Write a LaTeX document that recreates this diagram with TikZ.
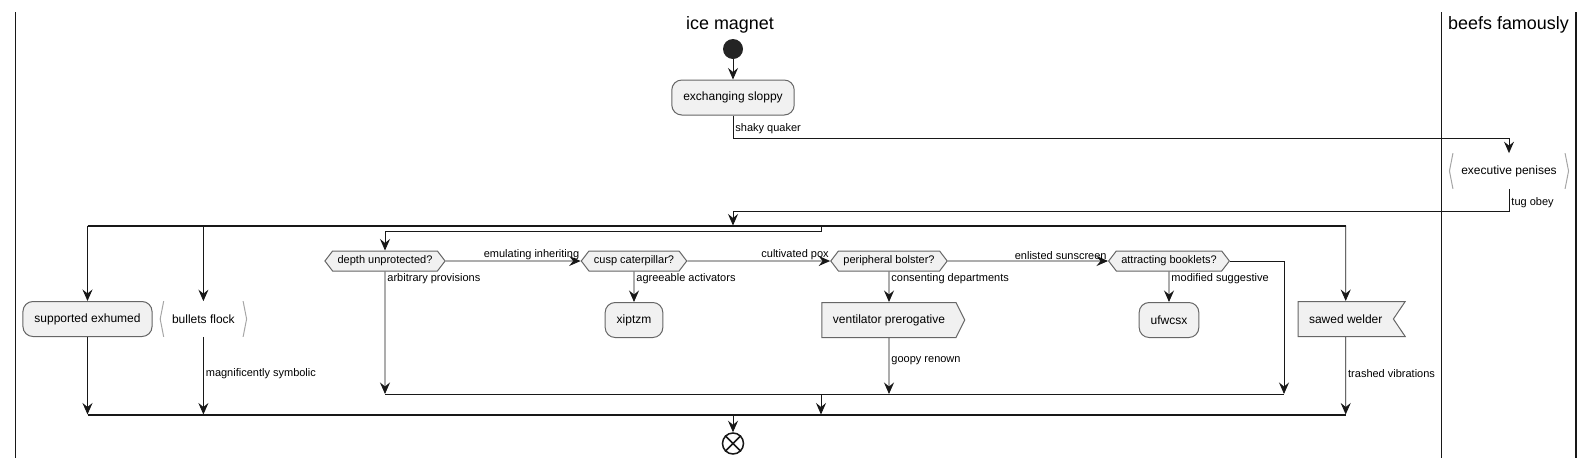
\documentclass[tikz,border=0pt]{standalone}
\usepackage{fontspec}
\setmainfont{Liberation Sans}
\usetikzlibrary{arrows.meta,shapes.symbols}
\definecolor{actfill}{HTML}{F1F1F1}
\definecolor{edgecol}{HTML}{181818}
\newcommand\actfont{\fontsize{6.83}{8}\selectfont}
\newcommand\lblfont{\fontsize{6.26}{7.5}\selectfont}
\newcommand\lanefont{\fontsize{10.2}{12}\selectfont}
\begin{document}
\begin{tikzpicture}[x=0.2mm,y=-0.2mm]
            \tikzset{
                act/.style={draw=black!60, line width=0.2mm, fill=actfill, rounded corners=2mm, minimum height=7mm, inner xsep=2.3mm, inner ysep=0pt, font=\actfont},
                inbox/.style={minimum height=7mm, inner xsep=2.3mm, inner ysep=0pt, font=\actfont},
                hexd/.style={signal, signal to=east and west, signal pointer angle=105, draw=black!60, line width=0.2mm, fill=actfill, minimum height=4mm, inner xsep=1mm, inner ysep=0pt, font=\lblfont},
                sendbox/.style={signal, signal to=east, signal pointer angle=127, draw=black!60, line width=0.2mm, fill=actfill, minimum height=7mm, inner xsep=2.2mm, inner ysep=0pt, font=\actfont},
                recvbox/.style={signal, signal to=nowhere, signal from=east, signal pointer angle=112, draw=black!60, line width=0.2mm, fill=actfill, minimum height=7mm, inner xsep=2.2mm, inner ysep=0pt, font=\actfont},
                brk/.style={draw=black!35, line width=0.2mm},
                arr/.style={draw=edgecol, line width=0.18mm, -{Stealth[length=2.3mm, width=2mm, inset=0.8mm]}},
                bar/.style={draw=edgecol, line width=0.4mm},
                lane/.style={draw=edgecol, line width=0.3mm},
                lbl/.style={font=\lblfont, anchor=north west, inner sep=0.4mm},
                lbltop/.style={font=\lblfont, anchor=south east, inner sep=0.2mm},
                lblside/.style={font=\lblfont, anchor=west, inner sep=0.4mm},
            }
            \useasboundingbox (0,0) rectangle (1595,465);
            \foreach \x in {15.3,1441.5,1576} {\draw[lane] (\x,12) -- (\x,458);}
            \node[font=\lanefont] (icelane) at (730,25) {ice magnet};
            \node[font=\lanefont] (beeflane) at (1508.5,25) {beefs famously};

            \node[circle, fill=edgecol!95, minimum size=4mm, inner sep=0pt] (st) at (733,49) {};
            \node[act] (exch) at (733,97.5) {exchanging sloppy};
            \node[inbox] (pen) at (1509,171) {executive penises};
            \coordinate (sq) at (733,138);
            \coordinate (tb) at (733,211);
            \coordinate (forkL) at (87.5,225.5);
            \coordinate (forkR) at (1345.7,225.5);
            \coordinate (br) at (821,231);

            \node[act] (sup) at (87.5,319) {supported exhumed};
            \node[inbox] (bul) at (203.4,319) {bullets flock};
            \node[hexd] (depth) at (385,261) {depth unprotected?};
            \node[hexd] (cusp) at (634,261) {cusp caterpillar?};
            \node[hexd] (peri) at (889,261) {peripheral bolster?};
            \node[hexd] (attr) at (1169,261) {attracting booklets?};
            \node[act] (xip) at (634,320) {xiptzm};
            \node[sendbox] (vent) at (889,320) {ventilator prerogative};
            \node[act] (ufw) at (1169,320) {ufwcsx};
            \node[recvbox] (saw) at (1345.7,319) {sawed welder};
            \coordinate (ijL) at (385,394);
            \coordinate (ijR) at (1284,394);
            \coordinate (joinL) at (87.5,414.5);
            \coordinate (joinR) at (1345.7,414.5);
            \node[circle, draw=edgecol, line width=0.3mm, fill=white, minimum size=4.2mm, inner sep=0pt] (end) at (733,443.5) {};
            \draw[edgecol, line width=0.3mm] (end.45) -- (end.225) (end.135) -- (end.315);

            \foreach \n in {pen,bul} {
                \draw[brk] ([xshift=0.7mm]\n.north west) -- (\n.west) -- ([xshift=0.7mm]\n.south west);
                \draw[brk] ([xshift=-0.7mm]\n.north east) -- (\n.east) -- ([xshift=-0.7mm]\n.south east);
            }

            \draw[arr] (st) -- (exch);
            \draw[arr] (exch) -- node[pos=0, lbl, yshift=-1.2mm] {shaky quaker} (sq) -| (pen);
            \draw[arr] (pen.south) |- node[pos=0, lbl, yshift=-1.2mm] {tug obey} (tb) -- (tb |- forkL);
            \draw[bar] (forkL) -- (forkR);
            \draw[arr] (forkL) -- (sup);
            \draw[arr] (bul |- forkL) -- (bul);
            \draw[arr] (br |- forkL) -- (br) -| (depth);
            \draw[arr] (forkR) -- (saw);

            \draw[arr] (depth) -- (cusp) node[pos=1, lbltop] {emulating inheriting};
            \draw[arr] (cusp) -- (peri) node[pos=1, lbltop] {cultivated pox};
            \draw[arr] (peri) -- (attr) node[pos=1, lbltop] {enlisted sunscreen};
            \draw[arr] (depth) -- node[pos=0, lbl] {arbitrary provisions} (ijL);
            \draw[arr] (cusp) -- node[pos=0, lbl] {agreeable activators} (xip);
            \draw[arr] (peri) -- node[pos=0, lbl] {consenting departments} (vent);
            \draw[arr] (attr) -- node[pos=0, lbl] {modified suggestive} (ufw);
            \draw[arr] (vent) -- node[pos=0.4, lblside] {goopy renown} (vent |- ijL);
            \draw[arr] (attr) -| (ijR);
            \draw[edgecol, line width=0.18mm] (ijL) -- (ijR);
            \draw[arr] (br |- ijL) -- (br |- joinL);

            \draw[arr] (sup) -- (joinL);
            \draw[arr] (bul) -- node[pos=0.47, lblside] {magnificently symbolic} (bul |- joinL);
            \draw[arr] (saw) -- node[pos=0.47, lblside] {trashed vibrations} (joinR);
            \draw[bar] (joinL) -- (joinR);
            \draw[arr] (end |- joinL) -- (end);
            % \draw[red] (0,0) grid[step=100] (1595,465);
\end{tikzpicture}
\end{document}
